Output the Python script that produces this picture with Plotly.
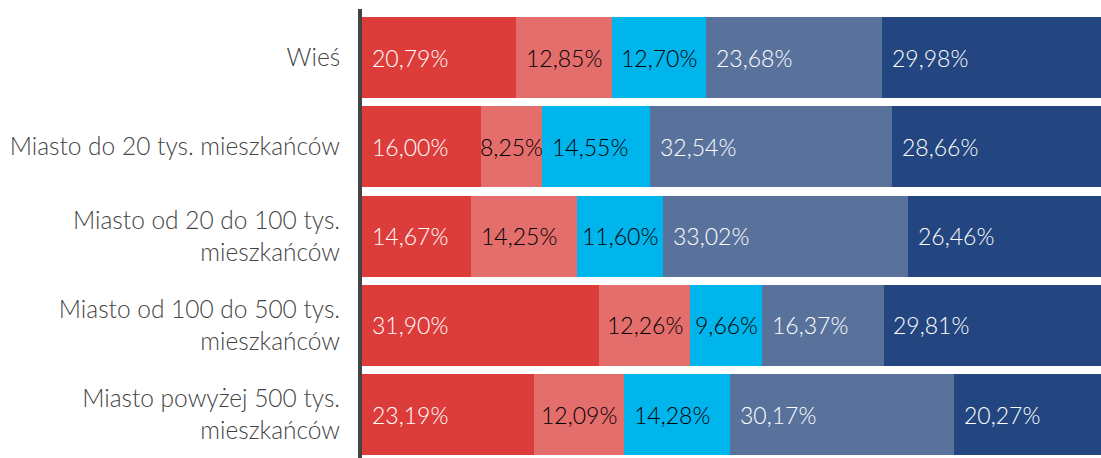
import plotly.graph_objects as go

categories = [
    "Wieś",
    "Miasto do 20 tys. mieszkańców",
    "Miasto od 20 do 100 tys.<br>mieszkańców",
    "Miasto od 100 do 500 tys.<br>mieszkańców",
    "Miasto powyżej 500 tys.<br>mieszkańców",
]
series_names = ["S1", "S2", "S3", "S4", "S5"]
s1 = [20.79, 16.00, 14.67, 31.90, 23.19]
s2 = [12.85, 8.25, 14.25, 12.26, 12.09]
s3 = [12.70, 14.55, 11.60, 9.66, 14.28]
s4 = [23.68, 32.54, 33.02, 16.37, 30.17]
s5 = [29.98, 28.66, 26.46, 29.81, 20.27]
series = [s1, s2, s3, s4, s5]

colors = ["#DC3D3B", "#E46E6C", "#00B5EC", "#59729C", "#234580"]
text_colors = ["white", "black", "black", "white", "white"]

FONT = "Lato"
L, R, T, B = 362, 0, 9, 0
W, H = 1105, 458
plot_w = W - L - R
PAD = 10.7
ANN_INNER = 3.0

fig = go.Figure()
for name, vals, col in zip(series_names, series, colors):
    fig.add_trace(go.Bar(
        y=list(range(len(categories))), x=vals, name=name, orientation="h",
        marker=dict(color=col, line=dict(width=0)),
        hoverinfo="skip",
    ))

annotations = []
cum = [0.0] * len(categories)
for vals, tc in zip(series, text_colors):
    for i, v in enumerate(vals):
        label = f"{v:.2f}".replace(".", ",") + "%"
        w_px = v / 100 * plot_w
        tw = 12.4 * len(label)
        if w_px - tw < 2 * PAD:
            ann = dict(x=cum[i] + v / 2, xanchor="center", xshift=0)
        else:
            ann = dict(x=cum[i], xanchor="left", xshift=PAD - ANN_INNER)
        ann.update(
            y=i, xref="x", yref="y", text=label, showarrow=False,
            yanchor="middle",
            font=dict(family=FONT, size=23, color=tc, weight=300),
        )
        annotations.append(ann)
        cum[i] += v

fig.update_layout(
    barmode="stack",
    bargap=0.093,
    width=W, height=H,
    margin=dict(l=L, r=R, t=T, b=B),
    paper_bgcolor="white", plot_bgcolor="white",
    showlegend=False,
    annotations=annotations,
    xaxis=dict(range=[0, 100], visible=False, fixedrange=True),
    yaxis=dict(
        range=[4.487, -0.545],
        tickmode="array",
        tickvals=list(range(len(categories))),
        ticktext=categories,
        showline=True, linewidth=4, linecolor="#444444",
        showgrid=False, zeroline=False, fixedrange=True,
        ticks="", ticklabelstandoff=13,
        tickfont=dict(family=FONT, size=24.5, color="#444444", weight=300),
    ),
)

post = (
    "document.body.style.margin='0';"
    "document.body.style.overflow='hidden';"
    "var gd=document.getElementById('{plot_id}');"
    "Plotly.relayout(gd,{width:%d,height:%d});" % (W, H)
)
fig.write_html("out.html", post_script=post,
               config={"displayModeBar": False, "staticPlot": True})
